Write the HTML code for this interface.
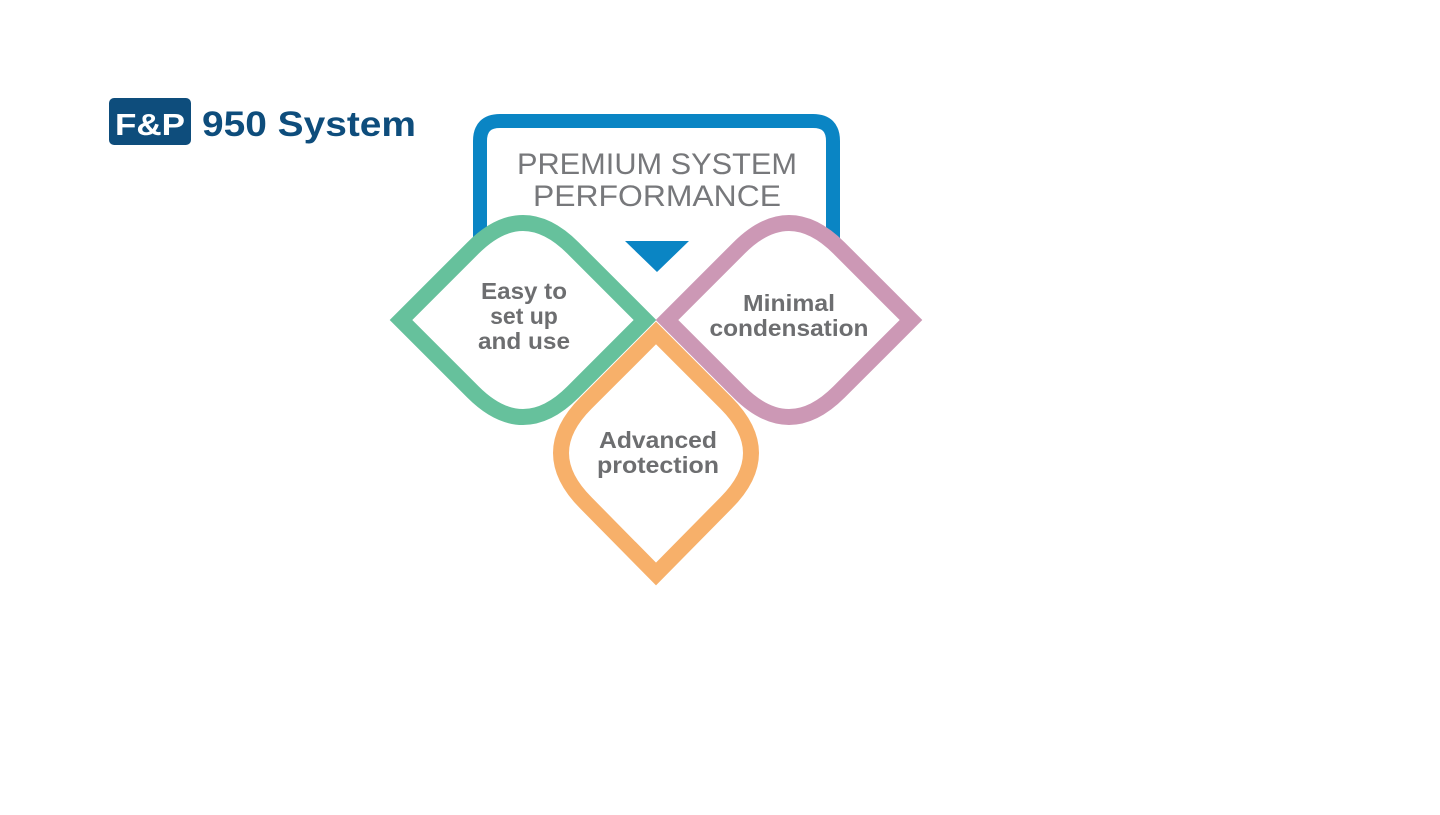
<!DOCTYPE html>
<html><head><style>
body{margin:0;width:1440px;height:810px;background:#fff;overflow:hidden;font-family:"Liberation Sans",sans-serif}
</style></head><body>
<svg width="1440" height="810" viewBox="0 0 1440 810" xmlns="http://www.w3.org/2000/svg">
<rect x="109" y="98" width="82" height="47" rx="5" fill="#0e4d7c"/>
<text x="150" y="135" text-anchor="middle" font-family="Liberation Sans" font-weight="bold" font-size="31" fill="#fff" textLength="70" lengthAdjust="spacingAndGlyphs">F&amp;P</text>
<text x="202" y="136" font-family="Liberation Sans" font-weight="bold" font-size="35" fill="#0e4d7c" textLength="214" lengthAdjust="spacingAndGlyphs">950 System</text>
<path d="M480,240 L480,141 Q480,121 500,121 L813,121 Q833,121 833,141 L833,240" fill="#fff" stroke="#0a85c4" stroke-width="14"/>
<text x="657" y="174" text-anchor="middle" font-size="30" fill="#77787b" textLength="280" lengthAdjust="spacingAndGlyphs">PREMIUM SYSTEM</text>
<text x="657" y="206" text-anchor="middle" font-size="30" fill="#77787b" textLength="248" lengthAdjust="spacingAndGlyphs">PERFORMANCE</text>
<g stroke-width="16" stroke-linejoin="miter" fill="#fff">
<path d="M401,320 L473,248 Q523,198 573,248 L645,320 L573,392 Q523,442 473,392 Z" stroke="#66c19c"/>
<path d="M667,320 L739,248 Q789,198 839,248 L911,320 L839,392 Q789,442 739,392 Z" stroke="#cc98b5"/>
<path d="M656,333 L726,403 Q776,453 726,503 L656,574 L586,503 Q536,453 586,403 Z" stroke="#f7b06a"/>
</g>
<polygon points="625,241 689,241 657,272" fill="#0a85c4"/>
<g font-family="Liberation Sans" font-weight="bold" font-size="23" fill="#6d6e70" text-anchor="middle">
<text x="524" y="299" textLength="86" lengthAdjust="spacingAndGlyphs">Easy to</text>
<text x="524" y="324">set up</text>
<text x="524" y="349" textLength="92" lengthAdjust="spacingAndGlyphs">and use</text>
<text x="789" y="311" textLength="92" lengthAdjust="spacingAndGlyphs">Minimal</text>
<text x="789" y="336" textLength="159" lengthAdjust="spacingAndGlyphs">condensation</text>
<text x="658" y="448" textLength="118" lengthAdjust="spacingAndGlyphs">Advanced</text>
<text x="658" y="473" textLength="122" lengthAdjust="spacingAndGlyphs">protection</text>
</g>
</svg>
</body></html>
